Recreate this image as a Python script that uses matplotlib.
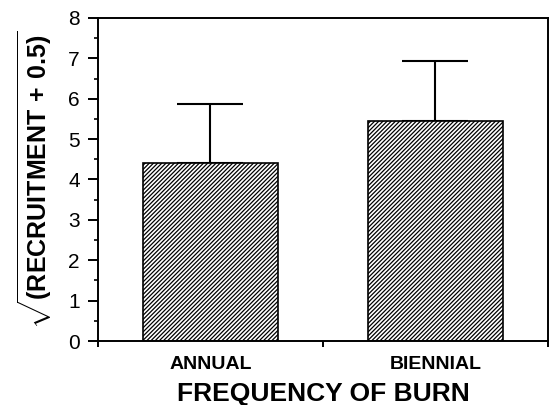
import matplotlib
matplotlib.use('Agg')
import matplotlib.pyplot as plt
from matplotlib.ticker import MultipleLocator

plt.rcParams['font.family'] = ['Liberation Sans', 'DejaVu Sans']
plt.rcParams['mathtext.fontset'] = 'custom'
plt.rcParams['mathtext.rm'] = 'Liberation Sans:bold'
plt.rcParams['mathtext.bf'] = 'Liberation Sans:bold'
plt.rcParams['hatch.linewidth'] = 0.9

burn = ['ANNUAL', 'BIENNIAL']
means = [4.42, 5.45]
upper_err = [1.46, 1.49]

fig = plt.figure(figsize=(5.49, 4.05), dpi=100)
ax = fig.add_axes([0.1785, 0.158, 0.8195, 0.7976])

x = range(len(burn))
ax.bar(x, means, width=0.6, color='white', edgecolor='black', linewidth=1.2,
       hatch='////////', zorder=2)
ax.errorbar(x, means, yerr=[[0] * len(burn), upper_err], fmt='none',
            ecolor='black', elinewidth=1.5, capsize=24, capthick=1.5, zorder=1)

ax.set_xlim(-0.5, 1.5)
ax.set_ylim(0, 8)
ax.yaxis.set_major_locator(MultipleLocator(1))
ax.yaxis.set_minor_locator(MultipleLocator(0.5))
ax.set_xticks([-0.5, 0.5, 1.5])
ax.set_xticklabels([])
ax.set_xticks(list(x), minor=True)
ax.set_xticklabels(burn, minor=True, fontsize=14, fontweight='bold')
ax.tick_params(axis='x', which='minor', length=0, pad=11)
ax.tick_params(axis='x', which='major', length=4, width=1.4, direction='out')
ax.tick_params(axis='y', which='major', length=7, width=1.4, direction='out',
               labelsize=15, pad=6)
ax.tick_params(axis='y', which='minor', length=3, width=1.2, direction='out')

for s in ax.spines.values():
    s.set_linewidth(1.4)

ax.set_ylabel(r'$\sqrt{\mathbf{(RECRUITMENT\ {+}\ 0.5)}}$', fontsize=18, labelpad=10)
ax.set_xlabel('FREQUENCY OF BURN', fontsize=19, fontweight='bold', labelpad=6)

fig.savefig('out.png', dpi=100)
